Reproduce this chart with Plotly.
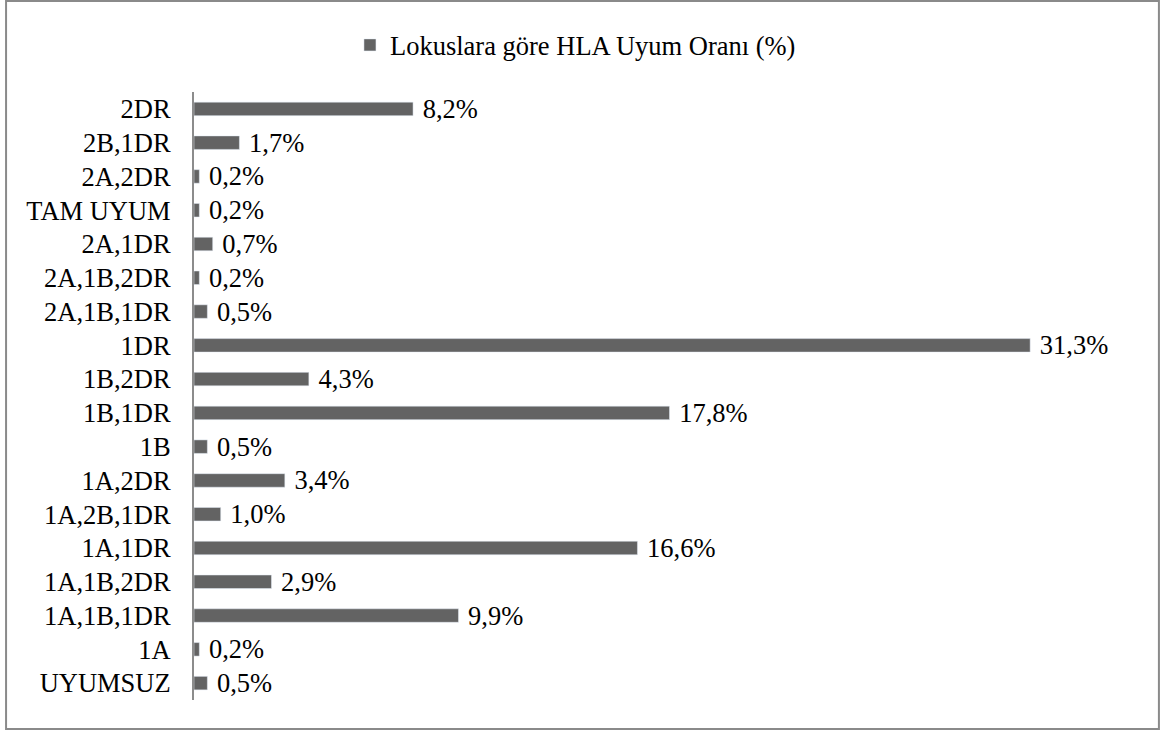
import plotly.graph_objects as go

# categories bottom to top
categories = ['UYUMSUZ', '1A', '1A,1B,1DR', '1A,1B,2DR', '1A,1DR', '1A,2B,1DR',
              '1A,2DR', '1B', '1B,1DR', '1B,2DR', '1DR', '2A,1B,1DR',
              '2A,1B,2DR', '2A,1DR', 'TAM UYUM', '2A,2DR', '2B,1DR', '2DR']
values = [0.5, 0.2, 9.9, 2.9, 16.6, 1.0,
          3.4, 0.5, 17.8, 4.3, 31.3, 0.5,
          0.2, 0.7, 0.2, 0.2, 1.7, 8.2]
series_name = 'Lokuslara göre HLA Uyum Oranı (%)'

fig = go.Figure(go.Bar(
    x=values, y=categories, orientation='h',
    name=series_name,
    marker=dict(color='#636363'),
    width=0.4,
    text=[' ' + f'{v:.1f}'.replace('.', ',') + '%' for v in values],
    textposition='outside',
    constraintext='none',
    textfont=dict(size=26.5, color='#000000'),
    cliponaxis=False,
    showlegend=True,
))

fig.update_layout(
    width=1168, height=733,
    margin=dict(l=194, r=39, t=92, b=33, autoexpand=False),
    plot_bgcolor='white',
    paper_bgcolor='white',
    font=dict(family='Liberation Serif, Times New Roman, serif', size=26.5, color='#000000'),
    bargap=0.6,
    legend=dict(orientation='h', x=0.1668, xanchor='left', y=1.077, yanchor='middle',
                font=dict(size=26.5), bgcolor='rgba(0,0,0,0)'),
    xaxis=dict(range=[0, 35], visible=False, showgrid=False, zeroline=False),
    yaxis=dict(showgrid=False, zeroline=False, showline=True, linecolor='#8c8c8c',
               linewidth=2, ticks='', ticklabelstandoff=16, automargin=False,
               categoryorder='array', categoryarray=categories),
    shapes=[dict(type='rect', xref='paper', yref='paper',
                 x0=-0.201, x1=1.032, y0=-0.0477, y1=1.1497,
                 line=dict(color='#8a8a8a', width=2))],
)

fig.write_html('out.html', config={'displayModeBar': False},
               post_script="document.body.style.margin='0';")
